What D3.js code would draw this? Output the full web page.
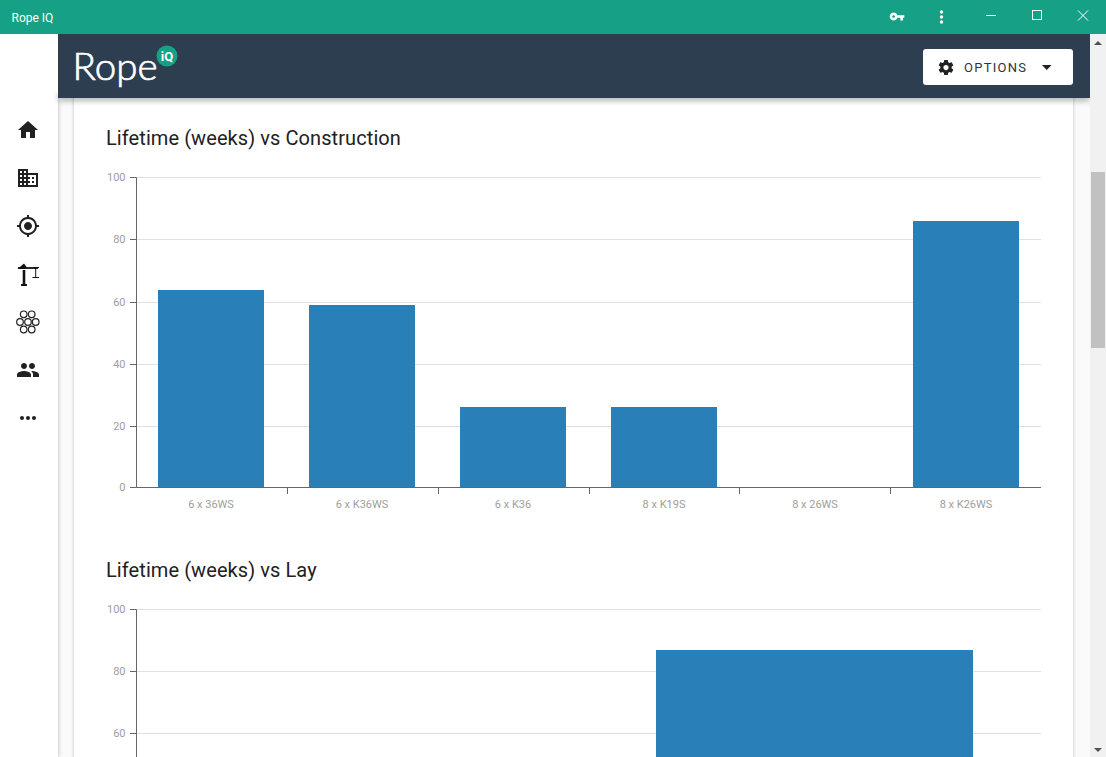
<!DOCTYPE html>
<html><head><meta charset="utf-8">
<script src="https://cdn.jsdelivr.net/npm/d3@7"></script>
<style>
html,body{margin:0;padding:0;width:1106px;height:757px;overflow:hidden;background:#fff}
svg{display:block;position:absolute;left:0;top:0}
text{font-family:Roboto,sans-serif}
</style></head><body>
<svg id="c" width="1106" height="757"></svg>
<script>
const constructionCats = ["6 x 36WS","6 x K36WS","6 x K36","8 x K19S","8 x 26WS","8 x K26WS"];
const constructionVals = [63.7,58.9,26,26,0,86];
const layCats = ["first","second"];
const layVals = [null,86.8];
const yTicks = [0,20,40,60,80,100];
const titles = ["Lifetime (weeks) vs Construction","Lifetime (weeks) vs Lay"];
const appTitle = "Rope IQ";
const optionsLabel = "OPTIONS";

const svg = d3.select("#c");
const defs = svg.append("defs");
function blur(id,s){defs.append("filter").attr("id",id).attr("filterUnits","userSpaceOnUse").attr("x",0).attr("y",0).attr("width",1106).attr("height",900)
  .append("feGaussianBlur").attr("stdDeviation",s);}
blur("b3",3);blur("b2",2);blur("b1",1.2);

svg.append("rect").attr("x",58).attr("y",98).attr("width",1032).attr("height",659).attr("fill","#fafafa");
svg.append("rect").attr("x",1090).attr("y",34).attr("width",16).attr("height",723).attr("fill","#f1f1f1");
svg.append("rect").attr("x",54).attr("y",34).attr("width",4).attr("height",723).attr("fill","#000").attr("opacity",.3).attr("filter","url(#b2)");
svg.append("rect").attr("x",0).attr("y",34).attr("width",58).attr("height",723).attr("fill","#fff");
svg.append("rect").attr("x",73).attr("y",90).attr("width",1001).attr("height",680).attr("fill","#000").attr("opacity",.14).attr("filter","url(#b1)");
svg.append("rect").attr("x",74).attr("y",90).attr("width",999).attr("height",680).attr("fill","#fff");
svg.append("rect").attr("x",1091).attr("y",172).attr("width",14).attr("height",176).attr("fill","#c1c1c1");
svg.append("path").attr("d","M1098 41l4 4h-8zM1098 752l-4-4h8z").attr("fill","#505050");

const axisColor="#666", labelColor="#9e9e9e";
function chart(g,cats,vals,top,bottom,title,titleY){
  const x=d3.scaleBand().domain(cats).range([135.5,1041.5]);
  const y=d3.scaleLinear().domain([0,100]).range([bottom,top]);
  const snap=v=>Math.floor(y(v)+.4)+.5;
  g.append("text").text(title).attr("x",106).attr("y",titleY).attr("font-size",20).attr("letter-spacing",".08").attr("fill","#212121");
  g.append("g").attr("stroke","#e0e0e0").selectAll("line").data(yTicks.filter(d=>d>0)).join("line")
    .attr("x1",136.5).attr("x2",1041).attr("y1",snap).attr("y2",snap);
  const bw=Math.round(x.bandwidth()*.7);
  g.selectAll("rect.bar").data(cats.map((c,i)=>({c,v:vals[i]})).filter(d=>d.v)).join("rect")
    .attr("class","bar").attr("fill","#2980b9")
    .attr("x",d=>Math.round(x(d.c)+x.bandwidth()*.15)).attr("width",bw)
    .attr("y",d=>Math.round(y(d.v))).attr("height",d=>Math.round(y(0))-Math.round(y(d.v)));
  const visible=yTicks.filter(v=>y(v)<757);
  g.append("line").attr("x1",136.5).attr("x2",136.5).attr("y1",snap(100)).attr("y2",bottom-.5).attr("stroke",axisColor);
  const ya=g.append("g");
  const t=ya.selectAll("g").data(visible).join("g");
  t.append("line").attr("x1",130).attr("x2",136.5).attr("y1",v=>v?snap(v):bottom-.5).attr("y2",v=>v?snap(v):bottom-.5).attr("stroke",axisColor);
  t.append("text").text(v=>v).attr("x",125.5).attr("y",v=>(v?snap(v):bottom-.5)+3).attr("text-anchor","end").attr("font-size",11).attr("fill",labelColor);
  return {x,y};
}
const g1=svg.append("g");
const a=chart(g1,constructionCats,constructionVals,177.4,488,titles[0],145);
const xa=g1.append("g").attr("transform","translate(0,487.5)")
  .call(d3.axisBottom(a.x).offset(0).tickSize(0).tickPadding(13));
xa.select(".domain").attr("stroke",axisColor).attr("d","M136.5,0H1041");
xa.selectAll("text").attr("fill",labelColor).attr("font-size",11).attr("font-family","Roboto,sans-serif");
const tickX=d3.scaleBand().domain(constructionCats).range([136.5,1041]);
g1.append("g").attr("stroke",axisColor).selectAll("line").data(constructionCats.slice(1)).join("line")
  .attr("x1",d=>Math.floor(tickX(d)+.3)+.5).attr("x2",d=>Math.floor(tickX(d)+.3)+.5).attr("y1",487.5).attr("y2",494);
chart(svg.append("g"),layCats,layVals,609,919.6,titles[1],577);

// header
svg.append("rect").attr("x",58).attr("y",95).attr("width",1032).attr("height",5).attr("fill","#000").attr("opacity",.4).attr("filter","url(#b3)");
svg.append("rect").attr("x",1090).attr("y",34).attr("width",16).attr("height",100).attr("fill","#f1f1f1");
svg.append("path").attr("d","M1098 41l4 4h-8z").attr("fill","#505050");
svg.append("rect").attr("x",58).attr("y",34).attr("width",1032).attr("height",64).attr("fill","#2c3e50");
svg.append("rect").attr("x",0).attr("y",0).attr("width",1106).attr("height",34).attr("fill","#16a085");
svg.append("text").text(appTitle).attr("x",11.5).attr("y",22).attr("font-size",12).attr("fill","#fff");

// logo
svg.append("text").text("Rope").attr("x",72.5).attr("y",80).attr("font-size",37).attr("fill","#fff").attr("stroke","#fff").attr("stroke-width",.7).attr("font-weight",300).style("font-family","Lato,sans-serif").attr("textLength",85).attr("lengthAdjust","spacingAndGlyphs");
svg.append("circle").attr("cx",167).attr("cy",56).attr("r",10.5).attr("fill","#16a085");
svg.append("text").text("iQ").attr("x",167).attr("y",60.5).attr("text-anchor","middle").attr("font-size",13).attr("font-weight",700).attr("fill","#fff");

// options button
svg.append("rect").attr("x",923).attr("y",49).attr("width",150).attr("height",36).attr("rx",3).attr("fill","#fff");
svg.append("text").text(optionsLabel).attr("x",964).attr("y",72).attr("font-size",13).attr("letter-spacing","1.25").attr("fill","#333");
svg.append("path").attr("d","M1042 65h9.5l-4.75 5z").attr("fill","#212121");

const icons={
 home:"M10 20v-6h4v6h5v-8h3L12 3 2 12h3v8z",
 domain:"M12 7V3H2v18h20V7H12zM6 19H4v-2h2v2zm0-4H4v-2h2v2zm0-4H4V9h2v2zm0-4H4V5h2v2zm4 12H8v-2h2v2zm0-4H8v-2h2v2zm0-4H8V9h2v2zm0-4H8V5h2v2zm10 12h-8v-2h2v-2h-2v-2h2v-2h-2V9h8v10zm-2-8h-2v2h2v-2zm0 4h-2v2h2v-2z",
 gps:"M12 8c-2.21 0-4 1.79-4 4s1.79 4 4 4 4-1.79 4-4-1.79-4-4-4zm8.94 3c-.46-4.17-3.77-7.48-7.94-7.94V1h-2v2.06C6.83 3.52 3.52 6.83 3.06 11H1v2h2.06c.46 4.17 3.77 7.48 7.94 7.94V23h2v-2.06c4.17-.46 7.48-3.77 7.94-7.94H23v-2h-2.06zM12 19c-3.87 0-7-3.13-7-7s3.13-7 7-7 7 3.13 7 7-3.13 7-7 7z",
 people:"M16 11c1.66 0 2.99-1.34 2.99-3S17.66 5 16 5c-1.66 0-3 1.34-3 3s1.34 3 3 3zm-8 0c1.66 0 2.99-1.34 2.99-3S9.66 5 8 5C6.34 5 5 6.34 5 8s1.34 3 3 3zm0 2c-2.33 0-7 1.17-7 3.5V19h14v-2.5c0-2.33-4.67-3.5-7-3.5zm8 0c-.29 0-.62.02-.97.05 1.16.84 1.97 1.97 1.97 3.45V19h6v-2.5c0-2.33-4.67-3.5-7-3.5z",
 more:"M6 10c-1.1 0-2 .9-2 2s.9 2 2 2 2-.9 2-2-.9-2-2-2zm12 0c-1.1 0-2 .9-2 2s.9 2 2 2 2-.9 2-2-.9-2-2-2zm-6 0c-1.1 0-2 .9-2 2s.9 2 2 2 2-.9 2-2-.9-2-2-2z",
 key:"M12.65 10C11.83 7.67 9.61 6 7 6c-3.31 0-6 2.69-6 6s2.69 6 6 6c2.61 0 4.83-1.67 5.65-4H17v4h4v-4h2v-4H12.65zM7 14c-1.1 0-2-.9-2-2s.9-2 2-2 2 .9 2 2-.9 2-2 2z",
 vert:"M12 8c1.1 0 2-.9 2-2s-.9-2-2-2-2 .9-2 2 .9 2 2 2zm0 2c-1.1 0-2 .9-2 2s.9 2 2 2 2-.9 2-2-.9-2-2-2zm0 6c-1.1 0-2 .9-2 2s.9 2 2 2 2-.9 2-2-.9-2-2-2z",
 gear:"M19.43 12.98c.04-.32.07-.64.07-.98s-.03-.66-.07-.98l2.11-1.65c.19-.15.24-.42.12-.64l-2-3.46c-.12-.22-.39-.3-.61-.22l-2.49 1c-.52-.4-1.08-.73-1.69-.98l-.38-2.65C14.46 2.18 14.25 2 14 2h-4c-.25 0-.46.18-.49.42l-.38 2.65c-.61.25-1.17.59-1.69.98l-2.49-1c-.23-.09-.49 0-.61.22l-2 3.46c-.13.22-.07.49.12.64l2.11 1.65c-.04.32-.07.65-.07.98s.03.66.07.98l-2.11 1.65c-.19.15-.24.42-.12.64l2 3.46c.12.22.39.3.61.22l2.49-1c.52.4 1.08.73 1.69.98l.38 2.65c.03.24.24.42.49.42h4c.25 0 .46-.18.49-.42l.38-2.65c.61-.25 1.17-.59 1.69-.98l2.49 1c.23.09.49 0 .61-.22l2-3.46c.12-.22.07-.49-.12-.64l-2.11-1.65zM12 15.5c-1.93 0-3.5-1.57-3.5-3.5s1.57-3.5 3.5-3.5 3.5 1.57 3.5 3.5-1.57 3.5-3.5 3.5z"};
function icon(d,cx,cy,size,fill){svg.append("path").attr("d",d).attr("fill",fill).attr("transform",`translate(${cx-size/2},${cy-size/2}) scale(${size/24})`);}
icon(icons.home,28,130,24,"#212121");
icon(icons.domain,28,178,24,"#212121");
icon(icons.gps,28,226,24,"#212121");
icon(icons.people,28,370,24,"#212121");
icon(icons.more,28,418,24,"#212121");
icon(icons.key,897,16.5,16,"#fff");
icon(icons.vert,941.5,17,20,"#fff");
icon(icons.gear,946,67.5,18,"#212121");
// crane
const cr=svg.append("g").attr("stroke","#111").attr("fill","none");
cr.append("path").attr("d","M24 270v14").attr("stroke-width",2.6);
cr.append("path").attr("d","M21 285h6").attr("stroke-width",2);
cr.append("path").attr("d","M17.5 269l6.5-5.5 2.5 3.5-1 2z").attr("fill","#111").attr("stroke","none");
cr.append("path").attr("d","M18 268h20").attr("stroke-width",1.8);
cr.append("path").attr("d","M35.7 267v10M32.5 277.5h6.5M33 267.5h6").attr("stroke-width",1);
// rope strand icon
const ringX=[23.7,31.7,20,28,35.7,23.7,31.7];
const ringY=[314.3,314.3,322,322,322,329.5,329.5];
svg.append("g").attr("fill","none").attr("stroke","#222").attr("stroke-width",1.2).selectAll("circle").data(ringX).join("circle")
  .attr("cx",d=>d).attr("cy",(d,i)=>ringY[i]).attr("r",3.3);
// window controls
svg.append("path").attr("d","M986 15.5h10").attr("stroke","#fff").attr("fill","none");
svg.append("rect").attr("x",1032.5).attr("y",10.5).attr("width",9).attr("height",9).attr("stroke","#fff").attr("fill","none");
svg.append("path").attr("d","M1078 10.5l10 10M1088 10.5l-10 10").attr("stroke","#fff").attr("fill","none");
</script></body></html>
